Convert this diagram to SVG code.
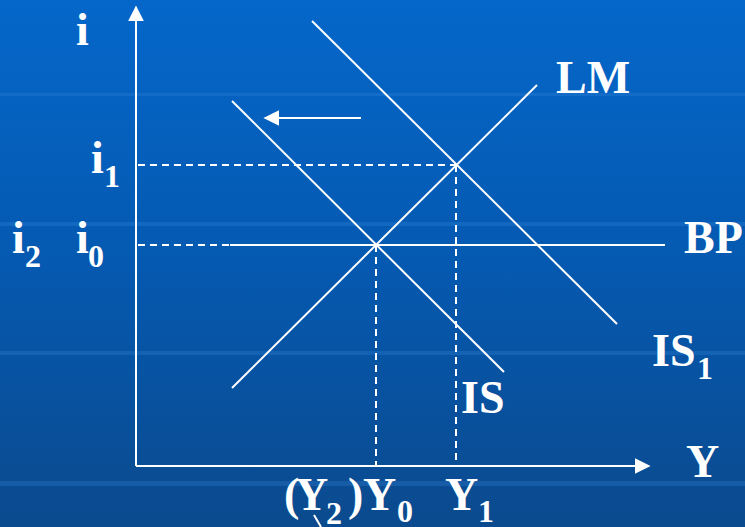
<svg xmlns="http://www.w3.org/2000/svg" width="745" height="527" viewBox="0 0 745 527">
  <defs>
    <linearGradient id="bg" x1="0" y1="0" x2="0" y2="1">
      <stop offset="0" stop-color="#0567CA"/>
      <stop offset="0.5" stop-color="#0559B0"/>
      <stop offset="1" stop-color="#0B4A8E"/>
    </linearGradient>
    <marker id="ah" viewBox="0 0 10 10" refX="9" refY="5" markerWidth="16" markerHeight="16" markerUnits="userSpaceOnUse" orient="auto">
      <path d="M0,0 L10,5 L0,10 Z" fill="#FFFFFF"/>
    </marker>
  </defs>
  <style>
    .ln { stroke: #FFFFFF; stroke-width: 2; fill: none; }
    .dash { stroke: #FFFFFF; stroke-width: 2; fill: none; stroke-dasharray: 7 5; }
    .lbl { font-family: "Liberation Serif", "Times New Roman", serif; font-weight: bold; font-size: 46px; fill: #FFFFFF; }
    .sub { font-family: "Liberation Serif", "Times New Roman", serif; font-weight: bold; font-size: 32px; fill: #FFFFFF; }
    .band { fill: #3A8AE0; opacity: 0.25; }
  </style>

  <rect x="0" y="0" width="745" height="527" fill="url(#bg)"/>
  <rect class="band" x="0" y="93" width="745" height="3"/>
  <rect class="band" x="0" y="222" width="745" height="4"/>
  <rect class="band" x="0" y="351" width="745" height="4"/>
  <rect class="band" x="0" y="481" width="745" height="5"/>

  <g id="connectors">
    <line class="ln" x1="136" y1="466" x2="136" y2="7" marker-end="url(#ah)"/>
    <line class="ln" x1="136" y1="466" x2="649" y2="466" marker-end="url(#ah)"/>
    <line class="dash" x1="138" y1="165" x2="456" y2="165"/>
    <line class="dash" x1="138" y1="245" x2="230" y2="245"/>
    <line class="dash" x1="376" y1="245" x2="376" y2="465"/>
    <line class="dash" x1="456" y1="165" x2="456" y2="465"/>
    <line class="ln" x1="361" y1="118" x2="265" y2="118" marker-end="url(#ah)"/>
  </g>

  <g id="BP">
    <line class="ln" x1="230" y1="245" x2="665" y2="245"/>
    <text class="lbl" x="684" y="253">BP</text>
  </g>
  <g id="LM">
    <line class="ln" x1="232" y1="388" x2="537" y2="85"/>
    <text class="lbl" x="556" y="93">LM</text>
  </g>
  <g id="IS">
    <line class="ln" x1="232" y1="101" x2="504" y2="372"/>
    <text class="lbl" x="461" y="413">IS</text>
  </g>
  <g id="IS1">
    <line class="ln" x1="312" y1="21" x2="617" y2="324"/>
    <text class="lbl" x="652" y="366">IS</text>
    <text class="sub" x="697" y="379">1</text>
  </g>

  <g id="axis-labels">
    <text class="lbl" x="76" y="45">i</text>
    <text class="lbl" x="686" y="477">Y</text>
    <text class="lbl" x="91" y="173">i</text>
    <text class="sub" x="104" y="187">1</text>
    <text class="lbl" x="76" y="253">i</text>
    <text class="sub" x="88" y="267">0</text>
    <text class="lbl" x="12" y="253">i</text>
    <text class="sub" x="25" y="267">2</text>
    <text class="lbl" x="284" y="510">(</text>
    <text class="lbl" x="295" y="510">Y</text>
    <text class="sub" x="326" y="524">2</text>
    <text class="lbl" x="348" y="510">)</text>
    <text class="lbl" x="363" y="510">Y</text>
    <text class="sub" x="397" y="522">0</text>
    <text class="lbl" x="445" y="510">Y</text>
    <text class="sub" x="478" y="522">1</text>
  </g>
  <line class="ln" x1="314" y1="515" x2="321" y2="527" stroke-width="1.5"/>
</svg>
